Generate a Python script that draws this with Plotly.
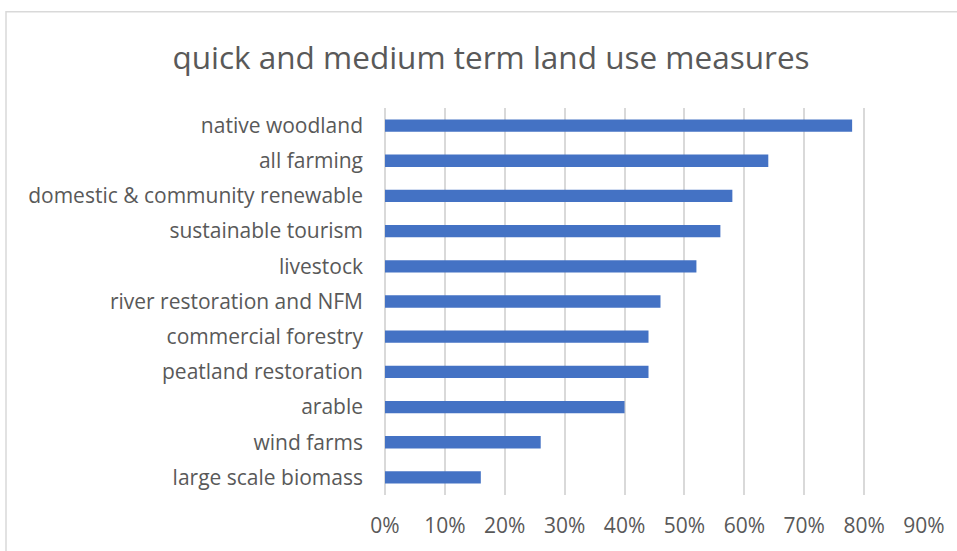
import plotly.graph_objects as go

# Survey results: share of respondents supporting each land use measure
categories = [
    "native woodland",
    "all farming",
    "domestic & community renewable",
    "sustainable tourism",
    "livestock",
    "river restoration and NFM",
    "commercial forestry",
    "peatland restoration",
    "arable",
    "wind farms",
    "large scale biomass",
]
support = [0.78, 0.64, 0.58, 0.56, 0.52, 0.46, 0.44, 0.44, 0.40, 0.26, 0.16]
x_ticks = [0.0, 0.1, 0.2, 0.3, 0.4, 0.5, 0.6, 0.7, 0.8, 0.9]
x_tick_labels = ["0%", "10%", "20%", "30%", "40%", "50%", "60%", "70%", "80%", "90%"]

BAR_BLUE = "#4472C4"
GRID_GREY = "#D9D9D9"
TEXT_GREY = "#595959"
FONT = "Open Sans, Noto Sans, sans-serif"

W, H = 957, 551
L, R, T, B = 385, 33, 108, 53

fig = go.Figure(
    go.Bar(
        x=support,
        y=categories,
        orientation="h",
        width=0.35,
        marker=dict(color=BAR_BLUE, line=dict(width=0)),
        hoverinfo="x+y",
    )
)

# outer chart frame (drawn in paper coordinates relative to the plot area)
pw, ph = W - L - R, H - T - B


def px_to_paper_x(px):
    return (px - L) / pw


def px_to_paper_y(py):
    return (H - B - py) / ph


fig.add_shape(
    type="rect",
    xref="paper",
    yref="paper",
    x0=px_to_paper_x(6),
    x1=px_to_paper_x(W + 10),
    y0=px_to_paper_y(H + 10),
    y1=px_to_paper_y(11),
    line=dict(color="#D9D9D9", width=1.5),
    fillcolor="rgba(0,0,0,0)",
    layer="below",
)

fig.update_layout(
    width=W,
    height=H,
    margin=dict(l=L, r=R, t=T, b=B),
    paper_bgcolor="white",
    plot_bgcolor="white",
    showlegend=False,
    bargap=0.65,
    title=dict(
        text="quick and medium term land use measures",
        x=491 / W,
        xref="container",
        xanchor="center",
        y=1 - 58 / H,
        yref="container",
        yanchor="middle",
        font=dict(family=FONT, size=31.5, color=TEXT_GREY),
    ),
    font=dict(family=FONT, color=TEXT_GREY),
)

fig.update_xaxes(
    range=[0, 0.9],
    tickvals=x_ticks,
    ticktext=x_tick_labels,
    showgrid=True,
    gridcolor=GRID_GREY,
    gridwidth=2,
    zeroline=True,
    zerolinecolor=GRID_GREY,
    zerolinewidth=2,
    showline=False,
    ticks="",
    tickfont=dict(family=FONT, size=21, color=TEXT_GREY),
    ticklabelstandoff=16,
    fixedrange=True,
)

fig.update_yaxes(
    categoryorder="array",
    categoryarray=categories[::-1],
    range=[-0.5, len(categories) - 0.5],
    showgrid=False,
    showline=False,
    zeroline=False,
    ticks="",
    tickfont=dict(family=FONT, size=21, color=TEXT_GREY),
    ticklabelstandoff=21,
    fixedrange=True,
)

fig.write_html("out.html")
